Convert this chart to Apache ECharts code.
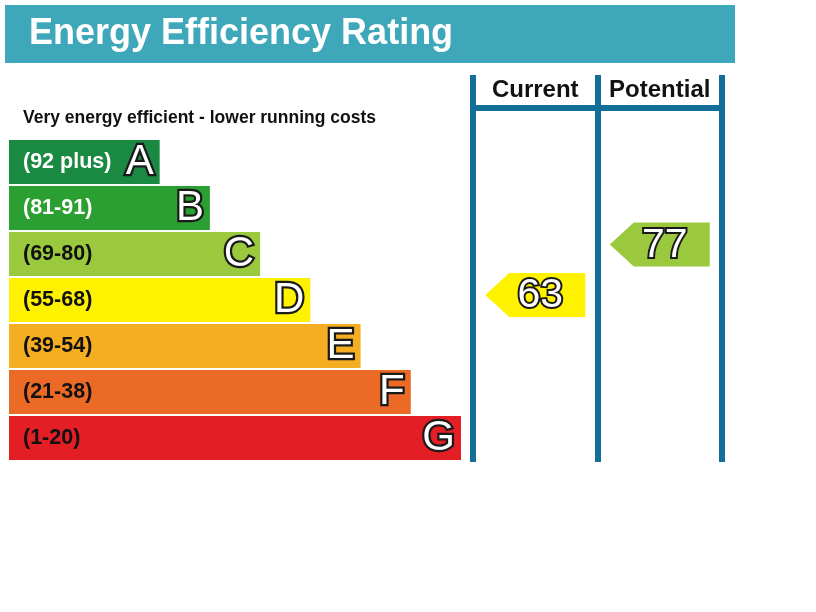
<!DOCTYPE html>
<html lang="en" style="height: 100%">
<head>
  <meta charset="utf-8">
</head>
<body style="height: 100%; margin: 0; background: #fff">
  <div id="container" style="width: 816px; height: 612px"></div>

<script type="text/javascript" src="https://cdn.jsdelivr.net/npm/echarts@6/dist/echarts.min.js"></script>

<script type="text/javascript">
// rating bands, top (best) to bottom
var bandLetters = ['A', 'B', 'C', 'D', 'E', 'F', 'G'];
var bandRanges = ['(92 plus)', '(81-91)', '(69-80)', '(55-68)', '(39-54)', '(21-38)', '(1-20)'];
var bandLow = [92, 81, 69, 55, 39, 21, 1];
var bandHigh = [100, 91, 80, 68, 54, 38, 20];
var bandLength = [3, 4, 5, 6, 7, 8, 9];
var bandColors = ['#1a8a42', '#2c9f33', '#9bc93e', '#fff200', '#f5ad21', '#eb6a25', '#e31e25'];
var rangeTextColors = ['#fff', '#fff', '#111', '#111', '#111', '#111', '#111'];

// columns and ratings
var columns = ['Current', 'Potential'];
var ratings = [63, 77];

var FONT = "'Liberation Sans', Arial, sans-serif";

function bandOf(v) {
  for (var i = 0; i < bandLow.length; i++) {
    if (v >= bandLow[i]) return i;
  }
  return bandLow.length - 1;
}

var dom = document.getElementById('container');
var myChart = echarts.init(dom, null, { renderer: 'canvas' });

var arrowData = ratings.map(function (r, i) {
  return [i, bandOf(r), r];
});

var option = {
  animation: false,
  textStyle: { fontFamily: FONT },
  graphic: [
    { type: 'rect', shape: { x: 5, y: 5, width: 730, height: 58 }, style: { fill: '#3ea7b9' } },
    { type: 'text', x: 29, y: 34, style: { text: 'Energy Efficiency Rating', fill: '#fff', font: 'bold 36px ' + FONT, textVerticalAlign: 'middle' } },
    { type: 'text', x: 23, y: 118, style: { text: 'Very energy efficient - lower running costs', fill: '#111', font: 'bold 17.5px ' + FONT, textVerticalAlign: 'middle' } },
    // column frame
    { type: 'rect', shape: { x: 470, y: 75, width: 6, height: 387 }, style: { fill: '#136f98' } },
    { type: 'rect', shape: { x: 595, y: 75, width: 6, height: 387 }, style: { fill: '#136f98' } },
    { type: 'rect', shape: { x: 719, y: 75, width: 6, height: 387 }, style: { fill: '#136f98' } },
    { type: 'rect', shape: { x: 470, y: 105, width: 255, height: 6 }, style: { fill: '#136f98' } }
  ],
  grid: [
    { left: 9, top: 139, width: 452, height: 322 },
    { left: 473, top: 139, width: 249, height: 322 }
  ],
  xAxis: [
    { gridIndex: 0, type: 'value', min: 0, max: 9, show: false },
    {
      gridIndex: 1, type: 'category', data: columns, position: 'top',
      axisLine: { show: false }, axisTick: { show: false },
      axisLabel: { interval: 0, hideOverlap: false, margin: 49, verticalAlign: 'middle', color: '#111', fontSize: 24, fontWeight: 'bold', fontFamily: FONT }
    }
  ],
  yAxis: [
    { gridIndex: 0, type: 'category', data: bandLetters, inverse: true, show: false },
    { gridIndex: 1, type: 'category', data: bandLetters, inverse: true, show: false }
  ],
  series: [
    {
      type: 'bar',
      xAxisIndex: 0, yAxisIndex: 0,
      barCategoryGap: '4%',
      data: bandLength.map(function (v, i) {
        return {
          value: v,
          itemStyle: { color: bandColors[i] },
          label: { color: rangeTextColors[i] }
        };
      }),
      label: {
        show: true,
        position: 'insideLeft',
        distance: 14,
        fontSize: 21.5,
        fontWeight: 'bold',
        fontFamily: FONT,
        formatter: function (p) { return bandRanges[p.dataIndex]; }
      },
      silent: true
    },
    {
      type: 'bar',
      xAxisIndex: 0, yAxisIndex: 0,
      barCategoryGap: '4%',
      barGap: '-100%',
      data: bandLength,
      itemStyle: { color: 'rgba(0,0,0,0)' },
      label: {
        show: true,
        position: 'insideRight',
        distance: 6,
        fontSize: 42,
        fontFamily: FONT,
        color: '#fff',
        textBorderColor: '#1a1a1a',
        textBorderWidth: 4.5,
        formatter: function (p) { return bandLetters[p.dataIndex]; }
      },
      silent: true
    },
    {
      type: 'custom',
      xAxisIndex: 1, yAxisIndex: 1,
      data: arrowData,
      silent: true,
      renderItem: function (params, api) {
        var col = api.value(0), band = api.value(1), rating = api.value(2);
        var c = api.coord([col, band]);
        var bandH = api.size([0, 1])[1];
        var frac = (bandHigh[band] + 0.5 - rating) / (bandHigh[band] - bandLow[band] + 1);
        var y = c[1] - bandH / 2 + frac * bandH;
        var h = bandH - 2, x0 = c[0] - 50, x1 = c[0] + 50, tip = 24;
        return {
          type: 'group',
          children: [
            {
              type: 'polygon',
              shape: { points: [[x0, y], [x0 + tip, y - h / 2], [x1, y - h / 2], [x1, y + h / 2], [x0 + tip, y + h / 2]] },
              style: { fill: bandColors[band] }
            },
            {
              type: 'text',
              x: c[0] + 5, y: y + 1,
              style: {
                text: String(rating),
                font: '41px ' + FONT,
                fill: '#fff',
                stroke: '#1a1a1a',
                lineWidth: 4,
                textAlign: 'center',
                textVerticalAlign: 'middle'
              }
            }
          ]
        };
      }
    }
  ]
};

myChart.setOption(option);
window.addEventListener('resize', myChart.resize);
</script>
</body>
</html>
